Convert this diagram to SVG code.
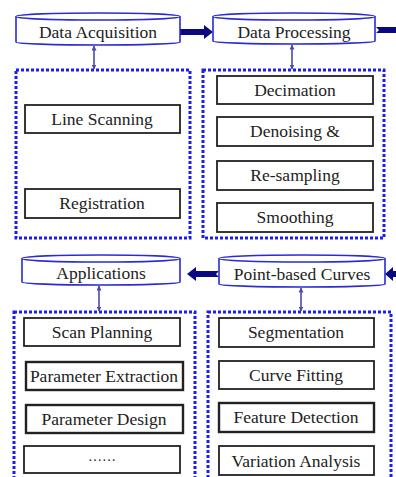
<svg xmlns="http://www.w3.org/2000/svg" width="396" height="477" viewBox="0 0 396 477">
  <style>
    text { font-family: "Liberation Serif", Tinos, "DejaVu Serif", serif; font-size: 17.5px; fill: #222; text-anchor: middle; }
    .cyl { fill: #fff; stroke: #2a2ad6; stroke-width: 1.6; }
    .group { fill: none; stroke: #1c1cf0; stroke-width: 3; stroke-dasharray: 3 2; }
    .step { fill: #fff; stroke: #222; stroke-width: 1.8; }
    .step.bold { stroke-width: 2.4; }
    .flow { fill: #0a0a80; stroke: none; }
    .link { stroke: #4a4aa8; stroke-width: 1.6; fill: none; marker-start: url(#tip); marker-end: url(#tip); }
  </style>
  <defs>
    <marker id="tip" viewBox="0 0 10 10" refX="9" refY="5" markerWidth="5" markerHeight="5" orient="auto-start-reverse" markerUnits="userSpaceOnUse">
      <path d="M0,0 L10,5 L0,10 z" fill="#4a4aa8"/>
    </marker>
  </defs>

  <rect width="396" height="477" fill="#fff"/>

  <!-- group frames -->
  <g id="acquisition-group">
    <rect class="group" x="16" y="70" width="174" height="168"/>
  </g>
  <g id="processing-group">
    <rect class="group" x="203" y="70" width="181" height="168"/>
  </g>
  <g id="applications-group">
    <rect class="group" x="14" y="312" width="181" height="175"/>
  </g>
  <g id="curves-group">
    <rect class="group" x="208" y="312" width="183" height="175"/>
  </g>

  <!-- connectors -->
  <g id="connectors">
    <!-- Data Acquisition -> Data Processing -->
    <path class="flow" d="M180,29 L204,29 L204,25 L213,32 L204,39 L204,35 L180,35 z"/>
    <!-- Data Processing -> onward (right edge) -->
    <path class="flow" d="M376,27 L396,27 L396,33 L376,33 L379,30 z"/>
    <!-- Point-based Curves -> Applications -->
    <path class="flow" d="M219,271 L196,271 L196,267 L187,274 L196,281 L196,277 L219,277 L216,274 z"/>
    <!-- incoming into Point-based Curves from the right -->
    <path class="flow" d="M396,271 L393,271 L393,267 L385,274 L393,281 L393,277 L396,277 z"/>
    <!-- cylinder <-> group links -->
    <line class="link" x1="94" y1="46" x2="94" y2="69"/>
    <line class="link" x1="292" y1="45" x2="292" y2="69"/>
    <line class="link" x1="99" y1="286" x2="99" y2="311"/>
    <line class="link" x1="301" y1="288" x2="301" y2="311"/>
  </g>

  <!-- stage headers -->
  <g id="data-acquisition">
    <path class="cyl" d="M16,16.5 A82,3.5 0 0 1 180,16.5 L180,42 A82,3 0 0 1 16,42 z"/>
    <path class="cyl" d="M16,16.5 A82,3.5 0 0 0 180,16.5"/>
    <text x="98" y="37.5">Data Acquisition</text>
  </g>
  <g id="data-processing">
    <path class="cyl" d="M213,16.5 A81,3.5 0 0 1 375,16.5 L375,41 A81,3 0 0 1 213,41 z"/>
    <path class="cyl" d="M213,16.5 A81,3.5 0 0 0 375,16.5"/>
    <text x="294" y="37.5">Data Processing</text>
  </g>
  <g id="applications">
    <path class="cyl" d="M22,258.5 A79,3.5 0 0 1 180,258.5 L180,282 A79,3 0 0 1 22,282 z"/>
    <path class="cyl" d="M22,258.5 A79,3.5 0 0 0 180,258.5"/>
    <text x="101" y="279">Applications</text>
  </g>
  <g id="point-based-curves">
    <path class="cyl" d="M219,258.5 A83,3.5 0 0 1 385,258.5 L385,284 A83,3 0 0 1 219,284 z"/>
    <path class="cyl" d="M219,258.5 A83,3.5 0 0 0 385,258.5"/>
    <text x="302" y="280">Point-based Curves</text>
  </g>

  <!-- acquisition steps -->
  <g id="line-scanning">
    <rect class="step" x="25" y="105" width="155" height="28"/>
    <text x="102" y="124.5">Line Scanning</text>
  </g>
  <g id="registration">
    <rect class="step" x="25" y="189" width="155" height="29"/>
    <text x="102" y="209">Registration</text>
  </g>

  <!-- processing steps -->
  <g id="decimation">
    <rect class="step" x="217" y="76" width="156" height="28"/>
    <text x="295" y="95.5">Decimation</text>
  </g>
  <g id="denoising">
    <rect class="step" x="217" y="117" width="156" height="29"/>
    <text x="295" y="137">Denoising &amp;</text>
  </g>
  <g id="re-sampling">
    <rect class="step" x="217" y="161" width="156" height="29"/>
    <text x="295" y="181">Re-sampling</text>
  </g>
  <g id="smoothing">
    <rect class="step" x="217" y="203" width="156" height="29"/>
    <text x="295" y="223">Smoothing</text>
  </g>

  <!-- application steps -->
  <g id="scan-planning">
    <rect class="step" x="24" y="318" width="156" height="28"/>
    <text x="102" y="337.5">Scan Planning</text>
  </g>
  <g id="parameter-extraction">
    <rect class="step bold" x="26" y="362" width="157" height="28"/>
    <text x="104" y="381.5">Parameter Extraction</text>
  </g>
  <g id="parameter-design">
    <rect class="step bold" x="26" y="405" width="157" height="28"/>
    <text x="104" y="425">Parameter Design</text>
  </g>
  <g id="more-applications">
    <rect class="step" x="24" y="446" width="156" height="27"/>
    <text x="102" y="461" style="font-size:14px">……</text>
  </g>

  <!-- curve analysis steps -->
  <g id="segmentation">
    <rect class="step" x="219" y="318" width="155" height="29"/>
    <text x="296" y="338">Segmentation</text>
  </g>
  <g id="curve-fitting">
    <rect class="step" x="219" y="361" width="155" height="28"/>
    <text x="296" y="380.5">Curve Fitting</text>
  </g>
  <g id="feature-detection">
    <rect class="step bold" x="219" y="403" width="155" height="29"/>
    <text x="296" y="423">Feature Detection</text>
  </g>
  <g id="variation-analysis">
    <rect class="step" x="219" y="446" width="155" height="29"/>
    <text x="296" y="466.5">Variation Analysis</text>
  </g>
</svg>
